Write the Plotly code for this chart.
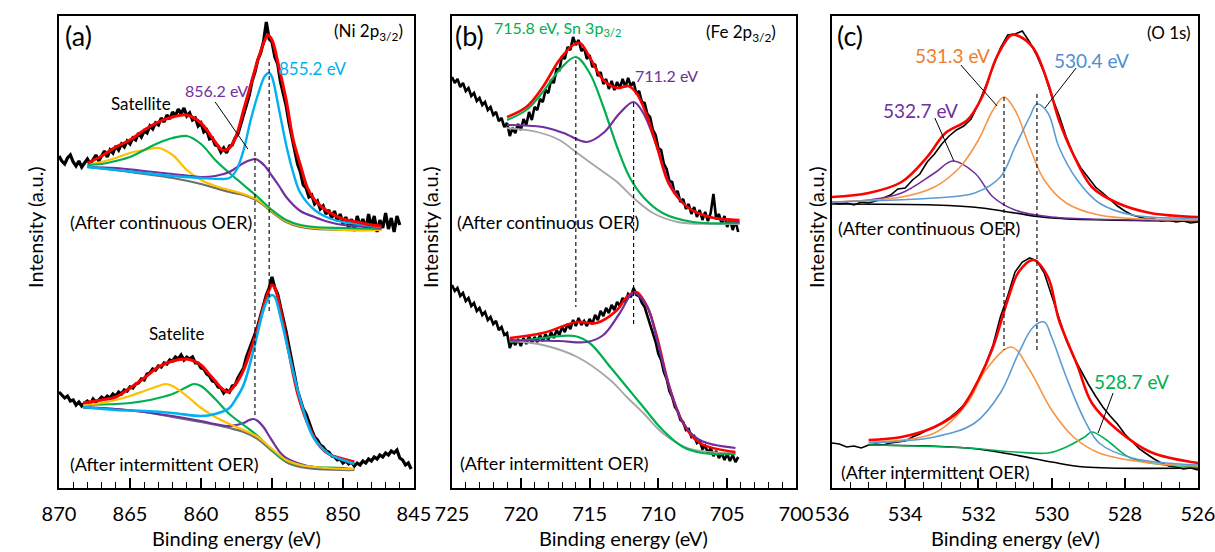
import plotly.graph_objects as go

FONT = "Lato"

# ---------------- Panel (a) Ni 2p3/2 : after continuous OER ----------------
# raw spectrum: (binding energy eV, intensity a.u.)
A1_DATA = [
    (870.0, 344), (869.8, 339), (869.6, 336), (869.4, 342), (869.2, 345), (869.0, 338), (868.8, 334), (868.6, 339),
    (868.4, 333), (868.2, 337), (868.0, 341), (867.8, 336), (867.6, 340), (867.4, 345), (867.2, 339), (867.0, 344),
    (866.8, 349), (866.6, 343), (866.4, 350), (866.2, 347), (866.0, 354), (865.8, 350), (865.6, 356), (865.4, 353),
    (865.2, 359), (865.0, 356), (864.8, 362), (864.6, 360), (864.4, 367), (864.2, 363), (864.0, 369), (863.8, 367),
    (863.6, 374), (863.4, 371), (863.2, 377), (863.0, 375), (862.8, 382), (862.6, 378), (862.4, 385), (862.2, 381),
    (862.0, 388), (861.8, 384), (861.6, 391), (861.4, 386), (861.2, 392), (861.0, 384), (860.8, 387), (860.6, 380),
    (860.4, 382), (860.2, 374), (860.0, 377), (859.8, 368), (859.6, 370), (859.4, 361), (859.2, 362), (859.0, 355),
    (858.8, 354), (858.6, 348), (858.4, 352), (858.2, 347), (858.0, 354), (857.8, 355), (857.6, 362), (857.4, 366),
    (857.2, 376), (857.0, 385), (856.8, 396), (856.6, 405), (856.4, 419), (856.2, 428), (856.0, 440), (855.8, 447),
    (855.6, 458), (855.4, 478), (855.2, 461), (855.0, 458), (854.8, 443), (854.6, 436), (854.4, 418), (854.2, 406),
    (854.0, 394), (853.8, 377), (853.6, 362), (853.4, 347), (853.2, 336), (853.0, 328), (852.8, 315), (852.6, 312),
    (852.4, 303), (852.2, 305), (852.0, 296), (851.8, 299), (851.6, 291), (851.4, 294), (851.2, 286), (851.0, 290),
    (850.8, 282), (850.6, 289), (850.4, 279), (850.2, 286), (850.0, 276), (849.8, 283), (849.6, 272), (849.4, 281),
    (849.2, 269), (849.0, 284), (848.8, 274), (848.6, 281), (848.4, 270), (848.2, 286), (848.0, 273), (847.8, 284),
    (847.6, 268), (847.4, 280), (847.2, 272), (847.0, 287), (846.8, 271), (846.6, 282), (846.4, 268), (846.2, 284),
    (846.0, 275)]
A1_FIT_E = [868, 867, 866, 865, 864, 863, 862, 861, 860, 859, 858.5, 858, 857.5, 857, 856.5, 856, 855.5, 855.3, 855,
            854.5, 854, 853.5, 853, 852.5, 852, 851, 850, 849, 848, 847.3]
A1_FIT_I = [337, 344, 353, 360, 370, 378, 383, 385, 377, 358, 350, 352, 365, 390, 415, 440, 460, 465, 460,
            432, 400, 360, 335, 312, 300, 288, 281, 278, 275, 274]
A1_CYAN_E = [868, 866, 864, 862, 860, 858.5, 858, 857.5, 857, 856.5, 856, 855.5, 855.2, 855, 854.5, 854, 853.5, 853,
             852, 851, 850, 849, 848, 847.3]
A1_CYAN_I = [333, 330, 327, 324, 322, 321, 322, 330, 350, 380, 405, 424, 427, 423, 390, 355, 327, 307,
             290, 282, 278, 276, 274, 273]
A1_PURP_E = [868, 866, 864, 862, 860, 859, 858, 857, 856.5, 856.2, 856, 855.5, 855, 854.5, 854, 853, 852, 851, 850,
             848, 847.3]
A1_PURP_I = [333, 332, 329, 326, 323, 324, 328, 337, 340, 341, 340, 334, 324, 314, 303, 289, 283, 278, 275, 273, 272]
A1_GREEN_E = [868, 867, 866, 865, 864, 863, 862, 861, 860, 859, 858, 857, 856, 855, 854, 853, 852, 850, 847.3]
A1_GREEN_I = [335, 336, 339, 343, 350, 357, 362, 364, 356, 340, 327, 315, 303, 290, 280, 275, 273, 272, 271]
A1_YEL_E = [868, 867, 866, 865, 864, 863, 862, 861, 860, 859, 858, 857, 856, 855, 854, 853, 852, 850, 847.3]
A1_YEL_I = [335, 338, 342, 347, 350, 352, 345, 330, 320, 314, 310, 306, 300, 289, 279, 274, 272, 270, 270]
A1_BG_E = [868, 866, 864, 862, 860, 858, 857, 856, 855, 854, 853, 852, 850, 847.3]
A1_BG_I = [333, 330, 326, 322, 316, 308, 305, 299, 288, 278, 273, 271, 270, 270]

# ---------------- Panel (a) : after intermittent OER ----------------
A2_DATA = [
    (870.0, 108), (869.8, 105), (869.6, 102), (869.4, 104), (869.2, 99), (869.0, 100), (868.8, 95), (868.6, 98),
    (868.4, 94), (868.2, 97), (868.0, 99), (867.8, 96), (867.6, 101), (867.4, 98), (867.2, 100), (867.0, 103),
    (866.8, 101), (866.6, 104), (866.4, 102), (866.2, 106), (866.0, 104), (865.8, 108), (865.6, 106), (865.4, 110),
    (865.2, 109), (865.0, 113), (864.8, 112), (864.6, 116), (864.4, 117), (864.2, 121), (864.0, 120), (863.8, 126),
    (863.6, 127), (863.4, 131), (863.2, 130), (863.0, 134), (862.8, 133), (862.6, 137), (862.4, 136), (862.2, 140),
    (862.0, 139), (861.8, 143), (861.6, 141), (861.4, 145), (861.2, 140), (861.0, 143), (860.8, 141), (860.6, 143),
    (860.4, 137), (860.2, 137), (860.0, 132), (859.8, 131), (859.6, 126), (859.4, 124), (859.2, 119), (859.0, 118),
    (858.8, 113), (858.6, 112), (858.4, 107), (858.2, 110), (858.0, 108), (857.8, 114), (857.6, 115), (857.4, 122),
    (857.2, 127), (857.0, 132), (856.8, 143), (856.6, 150), (856.4, 158), (856.2, 166), (856.0, 174), (855.8, 184),
    (855.6, 194), (855.4, 205), (855.2, 212), (855.0, 223), (854.8, 212), (854.6, 206), (854.4, 193), (854.2, 182),
    (854.0, 168), (853.8, 153), (853.6, 140), (853.4, 124), (853.2, 109), (853.0, 100), (852.8, 91), (852.6, 86),
    (852.4, 77), (852.2, 70), (852.0, 63), (851.8, 60), (851.6, 55), (851.4, 53), (851.2, 49), (851.0, 48),
    (850.8, 44), (850.6, 43), (850.4, 40), (850.2, 41), (850.0, 37), (849.8, 39), (849.6, 36), (849.4, 38),
    (849.2, 34), (849.0, 37), (848.8, 35), (848.6, 39), (848.4, 37), (848.2, 41), (848.0, 39), (847.8, 43),
    (847.6, 41), (847.4, 45), (847.2, 43), (847.0, 47), (846.8, 45), (846.6, 49), (846.4, 47), (846.2, 50),
    (846.0, 42), (845.8, 40), (845.6, 35), (845.4, 37), (845.2, 31)]
A2_FIT_E = [868.3, 867, 866, 865, 864, 863, 862, 861, 860, 859.5, 859, 858.5, 858.1, 857.5, 857, 856.5, 856, 855.5,
            855.2, 855, 854.8, 854.4, 853.8, 853.2, 852.5, 851.8, 851, 850, 849.2]
A2_FIT_I = [97, 100, 103, 112, 122, 133, 139, 141, 135, 127, 119, 111, 108, 117, 130, 150, 172, 198,
            210, 215, 212, 190, 147, 107, 77, 57, 46, 41, 38]
A2_CYAN_E = [868.3, 866, 864, 862, 860, 859, 858, 857.5, 857, 856.3, 855.6, 855.2, 855, 854.8, 854.4, 853.7, 853,
             852.1, 851, 850, 849.2]
A2_CYAN_I = [93, 90, 89, 87, 84, 86, 92, 102, 115, 150, 190, 203, 205, 203, 183, 140, 100, 63, 46, 40, 36]
A2_GREEN_E = [868.3, 866, 865, 864, 863, 862, 861, 860.5, 860, 859, 858, 857, 856, 855, 854, 853, 852, 850, 849.2]
A2_GREEN_I = [95, 96, 97, 99, 102, 106, 113, 116, 114, 101, 86, 75, 64, 50, 39, 35, 33, 32, 31]
A2_YEL_E = [868.3, 867, 866, 865, 864, 863, 862.5, 862, 861, 860, 859, 858, 857, 856, 855, 854, 853, 852, 850, 849.2]
A2_YEL_I = [95, 97, 100, 104, 109, 114, 116, 114, 104, 92, 83, 76, 70, 63, 51, 40, 35, 33, 31, 31]
A2_PURP_E = [868.3, 866, 864, 862, 860, 859, 858, 857.5, 857, 856.6, 856.3, 856, 855.6, 855.2, 854.8, 854.4, 854,
             853, 852, 850, 849.2]
A2_PURP_I = [93, 91, 88, 84, 79, 76, 74, 75, 77, 80, 81, 79, 73, 64, 55, 47, 42, 36, 33, 31, 31]
A2_BG_E = [868.3, 866, 864, 862, 860, 858, 857, 856, 855, 854, 853, 852, 850, 849.2]
A2_BG_I = [92, 91, 88, 83, 78, 72, 68, 61, 49, 38, 33, 31, 30, 30]

A_DASH_E = [856.2, 855.2]
A_DASH_TOP = [348, 438]
A_DASH_BOT = [82, 188]
A_LEAD_E = [859.0, 856.7]
A_LEAD_I = [398, 351]

# ---------------- Panel (b) Fe 2p3/2 : after continuous OER ----------------
B1_DATA = [
    (725.0, 423), (724.8, 417), (724.6, 421), (724.4, 413), (724.2, 417), (724.0, 409), (723.8, 412), (723.6, 404),
    (723.4, 407), (723.2, 399), (723.0, 402), (722.8, 395), (722.6, 398), (722.4, 390), (722.2, 393), (722.0, 385),
    (721.8, 388), (721.6, 379), (721.4, 382), (721.2, 373), (721.0, 377), (720.8, 364), (720.6, 372), (720.4, 367),
    (720.2, 376), (720.0, 370), (719.8, 381), (719.6, 375), (719.4, 388), (719.2, 380), (719.0, 393), (718.8, 390),
    (718.6, 401), (718.4, 398), (718.2, 410), (718.0, 407), (717.8, 420), (717.6, 417), (717.4, 431), (717.2, 430),
    (717.0, 444), (716.8, 441), (716.6, 453), (716.4, 450), (716.2, 463), (716.0, 455), (715.8, 460), (715.6, 449),
    (715.4, 452), (715.2, 441), (715.0, 445), (714.8, 433), (714.6, 436), (714.4, 424), (714.2, 428), (714.0, 416),
    (713.8, 421), (713.6, 411), (713.4, 419), (713.2, 410), (713.0, 418), (712.8, 412), (712.6, 421), (712.4, 413),
    (712.2, 422), (712.0, 414), (711.8, 418), (711.6, 406), (711.4, 409), (711.2, 398), (711.0, 397), (710.8, 386),
    (710.6, 383), (710.4, 370), (710.2, 365), (710.0, 352), (709.8, 350), (709.6, 336), (709.4, 331), (709.2, 319),
    (709.0, 318), (708.8, 306), (708.6, 309), (708.4, 298), (708.2, 301), (708.0, 291), (707.8, 296), (707.6, 286),
    (707.4, 293), (707.2, 283), (707.0, 290), (706.8, 280), (706.6, 288), (706.4, 279), (706.2, 287), (706.0, 306),
    (705.8, 281), (705.6, 286), (705.4, 276), (705.2, 284), (705.0, 273), (704.8, 281), (704.6, 270), (704.4, 279),
    (704.2, 268)]
B1_FIT_E = [721, 719.6, 718.4, 717.2, 716.2, 715.7, 715, 714, 713, 712.2, 711.6, 710.8, 710.1, 709.2, 707.9, 706.3, 704.1]
B1_FIT_I = [383, 393, 413, 440, 455, 457, 443, 420, 412, 414, 407, 383, 353, 315, 293, 283, 280]
B1_GREEN_E = [721, 719.6, 718.4, 717.2, 716, 715, 714, 713, 712.1, 711.1, 709.7, 707.5, 704.1]
B1_GREEN_I = [380, 390, 408, 430, 443, 427, 393, 353, 323, 303, 287, 278, 277]
B1_PURP_E = [721, 718.4, 716.9, 715.2, 714, 712.8, 711.8, 711.1, 710.1, 709.2, 707.9, 706.3, 704.1]
B1_PURP_I = [375, 373, 367, 358, 367, 387, 398, 387, 353, 317, 293, 283, 278]
B1_BG_E = [721, 718.8, 717.2, 716, 714.5, 713, 711.8, 710.4, 708.6, 706.3, 704.1]
B1_BG_I = [372, 368, 360, 348, 333, 318, 302, 287, 278, 276, 276]

# ---------------- Panel (b) : after intermittent OER ----------------
B2_DATA = [
    (725.0, 215), (724.8, 209), (724.6, 212), (724.4, 204), (724.2, 207), (724.0, 199), (723.8, 202), (723.6, 194),
    (723.4, 197), (723.2, 189), (723.0, 192), (722.8, 185), (722.6, 188), (722.4, 180), (722.2, 183), (722.0, 176),
    (721.8, 179), (721.6, 170), (721.4, 173), (721.2, 165), (721.0, 167), (720.8, 152), (720.6, 160), (720.4, 155),
    (720.2, 161), (720.0, 154), (719.8, 162), (719.6, 156), (719.4, 164), (719.2, 157), (719.0, 163), (718.8, 158),
    (718.6, 165), (718.4, 159), (718.2, 166), (718.0, 160), (717.8, 168), (717.6, 162), (717.4, 170), (717.2, 165),
    (717.0, 173), (716.8, 168), (716.6, 176), (716.4, 171), (716.2, 180), (716.0, 174), (715.8, 182), (715.6, 175),
    (715.4, 179), (715.2, 174), (715.0, 181), (714.8, 176), (714.6, 185), (714.4, 180), (714.2, 189), (714.0, 184),
    (713.8, 192), (713.6, 187), (713.4, 195), (713.2, 190), (713.0, 198), (712.8, 194), (712.6, 202), (712.4, 198),
    (712.2, 206), (712.0, 203), (711.8, 212), (711.6, 205), (711.4, 204), (711.2, 197), (711.0, 193), (710.8, 184),
    (710.6, 177), (710.4, 166), (710.2, 158), (710.0, 146), (709.8, 140), (709.6, 128), (709.4, 121), (709.2, 109),
    (709.0, 103), (708.8, 93), (708.6, 89), (708.4, 80), (708.2, 78), (708.0, 70), (707.8, 71), (707.6, 63),
    (707.4, 64), (707.2, 57), (707.0, 59), (706.8, 51), (706.6, 54), (706.4, 47), (706.2, 52), (706.0, 44),
    (705.8, 49), (705.6, 42), (705.4, 47), (705.2, 40), (705.0, 46), (704.8, 39), (704.6, 45), (704.4, 38),
    (704.2, 43)]
B2_FIT_E = [720.8, 718.4, 715.9, 714.5, 713, 712.3, 711.6, 710.8, 710.1, 709.2, 708.2, 707, 704.4]
B2_FIT_I = [162, 167, 178, 177, 190, 203, 208, 193, 163, 113, 77, 57, 48]
B2_GREEN_E = [720.8, 718.4, 716.1, 715, 713.5, 712.3, 711.1, 709.7, 708.2, 706.8, 704.4]
B2_GREEN_I = [158, 162, 164, 157, 133, 113, 93, 70, 53, 47, 46]
B2_PURP_E = [720.8, 717.2, 715.2, 714, 712.8, 711.8, 710.8, 710.1, 709.2, 708.2, 707, 704.4]
B2_PURP_I = [160, 159, 158, 165, 187, 207, 193, 160, 113, 77, 60, 52]
B2_BG_E = [720.8, 718.4, 715.9, 713.5, 712.3, 711.1, 709.7, 707.9, 704.4]
B2_BG_I = [159, 155, 143, 120, 103, 87, 67, 52, 47]

B_DASH_E = [716.0, 711.8]
B_DASH_TOP = [440, 397]
B_DASH_BOT = [193, 173]

# ---------------- Panel (c) O 1s : after continuous OER ----------------
C_DATA_E = [536.0, 535.8, 535.6, 535.4, 535.2, 535.0, 534.8, 534.6, 534.4, 534.2, 534.0, 533.8, 533.6, 533.4, 533.2,
            533.0, 532.8, 532.6, 532.4, 532.2, 532.0, 531.8, 531.6, 531.4, 531.2, 531.0, 530.8, 530.6, 530.4, 530.2,
            530.0, 529.8, 529.6, 529.4, 529.2, 529.0, 528.8, 528.6, 528.4, 528.2, 528.0, 527.8, 527.6, 527.4, 527.2,
            527.0, 526.8, 526.6, 526.4, 526.2, 526.0]
C1_DATA_I = [298, 296, 297, 295, 298, 297, 299, 302, 305, 311, 312, 320, 326, 338, 346,
             356, 364, 370, 374, 381, 396, 414, 434, 452, 465, 466, 469, 458, 444, 427,
             404, 385, 363, 345, 332, 322, 313, 307, 300, 294, 289, 285, 283, 281, 281,
             279, 280, 278, 279, 277, 278]
C1_FIT_E = [536, 535, 534.1, 533.4, 532.9, 532.3, 531.9, 531.5, 531.1, 530.9, 530.5, 530.1, 529.8, 529.4, 528.9,
            528.2, 527.3, 526]
C1_FIT_I = [303, 307, 318, 343, 367, 380, 403, 443, 465, 464, 452, 417, 380, 345, 313, 297, 287, 283]
C1_ORANGE_E = [536, 534.1, 533.2, 532.5, 532, 531.6, 531.3, 531, 530.6, 530.2, 529.6, 528.7, 526]
C1_ORANGE_I = [298, 303, 313, 333, 360, 390, 403, 390, 353, 320, 297, 285, 280]
C1_BLUE_E = [536, 533.2, 532.1, 531.4, 531, 530.6, 530.4, 530.1, 529.8, 529.3, 528.7, 527.8, 526]
C1_BLUE_I = [298, 302, 307, 323, 353, 383, 396, 387, 353, 320, 297, 285, 282]
C1_PURP_E = [536, 535, 534.1, 533.2, 532.7, 532.1, 531.6, 531, 530, 526]
C1_PURP_I = [298, 300, 307, 327, 339, 327, 303, 290, 283, 280]
C1_BG_E = [536, 533.2, 531.9, 531, 530, 526]
C1_BG_I = [296, 295, 292, 287, 282, 279]

# ---------------- Panel (c) : after intermittent OER ----------------
C2_DATA_I = [57, 56, 53, 54, 52, 55, 56, 55, 57, 58, 59, 63, 66, 70, 73,
             77, 82, 88, 95, 106, 120, 136, 155, 183, 204, 228, 238, 242, 239, 227,
             205, 182, 160, 143, 129, 116, 104, 93, 84, 76, 66, 58, 51, 46, 41,
             37, 34, 33, 31, 32, 30]
C2_FIT_E = [535, 534.1, 533.2, 532.5, 532, 531.6, 531.2, 530.9, 530.5, 530.1, 529.8, 529.3, 528.9, 528.2, 527.3, 526]
C2_FIT_I = [60, 63, 73, 90, 120, 153, 200, 228, 240, 223, 180, 135, 97, 70, 48, 37]
C2_ORANGE_E = [535, 533.2, 532.3, 531.8, 531.1, 530.6, 530, 529.4, 528.7, 527.3, 526]
C2_ORANGE_I = [58, 67, 97, 130, 153, 130, 90, 63, 47, 37, 34]
C2_BLUE_E = [535, 533.2, 532.1, 531.4, 530.9, 530.5, 530.2, 530, 529.6, 529.1, 528.7, 527.8, 526]
C2_BLUE_I = [57, 63, 77, 107, 147, 173, 178, 163, 123, 80, 57, 42, 35]
C2_GREEN_E = [535, 532.3, 531, 530.1, 529.6, 529.1, 528.9, 528.5, 527.9, 527.3, 526]
C2_GREEN_I = [55, 52, 48, 47, 53, 63, 68, 60, 43, 37, 33]
C2_BG_E = [535, 532.3, 531, 530, 529.1, 526]
C2_BG_I = [55, 52, 45, 38, 33, 32]

C_DASH_E = [531.3, 530.4]
C_DASH_TOP = [403, 406]
C_DASH_BOT = [150, 149]
C_LEAD_E = [[532.48, 531.49], [529.33, 530.18], [533.19, 532.67], [528.32, 528.73]]
C_LEAD_I = [[435, 394], [432, 392], [382, 339], [107, 67]]

# ---------------- colours ----------------
RED = "#FF0000"
CYAN = "#00B0F0"
PURPLE = "#7030A0"
GREEN = "#00B050"
YELLOW = "#FFC000"
GRAY_A = "#6E6E6E"
GRAY_B = "#A6A6A6"
ORANGE = "#F79646"
BLUE = "#5B9BD5"
BLUE_T = "#4F8FD0"
ORANGE_T = "#ED7D31"

fig = go.Figure()


def line(ax, E, I, color, width, shape="spline", dash=None):
    fig.add_trace(go.Scatter(
        x=list(E), y=list(I), xaxis="x" + ax, yaxis="y" + ax, mode="lines",
        line=dict(color=color, width=width, shape=shape, dash=dash),
        hoverinfo="skip", showlegend=False))


def raw(ax, pairs, width):
    E, I = zip(*pairs)
    line(ax, E, I, "black", width, "linear")


# panel a
raw("", A1_DATA, 3.2)
for E, I, c, w in [
    (A1_BG_E, A1_BG_I, GRAY_A, 2.2),
    (A1_YEL_E, A1_YEL_I, YELLOW, 2.2),
    (A1_GREEN_E, A1_GREEN_I, GREEN, 2.2),
    (A1_PURP_E, A1_PURP_I, PURPLE, 2.2),
    (A1_CYAN_E, A1_CYAN_I, CYAN, 2.4),
    (A1_FIT_E, A1_FIT_I, RED, 3),
]:
    line("", E, I, c, w)
raw("", A2_DATA, 3.2)
for E, I, c, w in [
    (A2_BG_E, A2_BG_I, GRAY_A, 2.2),
    (A2_PURP_E, A2_PURP_I, PURPLE, 2.2),
    (A2_GREEN_E, A2_GREEN_I, GREEN, 2.2),
    (A2_YEL_E, A2_YEL_I, YELLOW, 2.2),
    (A2_FIT_E, A2_FIT_I, RED, 3),
    (A2_CYAN_E, A2_CYAN_I, CYAN, 2.6),
]:
    line("", E, I, c, w)

# panel b
raw("2", B1_DATA, 2.6)
for E, I, c, w in [
    (B1_BG_E, B1_BG_I, GRAY_B, 1.8),
    (B1_GREEN_E, B1_GREEN_I, GREEN, 2.2),
    (B1_PURP_E, B1_PURP_I, PURPLE, 2.2),
    (B1_FIT_E, B1_FIT_I, RED, 2.6),
]:
    line("2", E, I, c, w)
raw("2", B2_DATA, 2.6)
for E, I, c, w in [
    (B2_BG_E, B2_BG_I, GRAY_B, 1.8),
    (B2_GREEN_E, B2_GREEN_I, GREEN, 2.2),
    (B2_FIT_E, B2_FIT_I, RED, 2.6),
    (B2_PURP_E, B2_PURP_I, PURPLE, 2.2),
]:
    line("2", E, I, c, w)

# panel c
for E, I, c, w, s in [
    (C_DATA_E, C1_DATA_I, "black", 1.6, "linear"),
    (C1_BG_E, C1_BG_I, "black", 1.6, "spline"),
    (C1_PURP_E, C1_PURP_I, PURPLE, 1.6, "spline"),
    (C1_ORANGE_E, C1_ORANGE_I, ORANGE, 1.6, "spline"),
    (C1_BLUE_E, C1_BLUE_I, BLUE, 1.6, "spline"),
    (C1_FIT_E, C1_FIT_I, RED, 2.6, "spline"),
    (C_DATA_E, C2_DATA_I, "black", 1.6, "linear"),
    (C2_BG_E, C2_BG_I, "black", 1.6, "spline"),
    (C2_GREEN_E, C2_GREEN_I, GREEN, 1.6, "spline"),
    (C2_ORANGE_E, C2_ORANGE_I, ORANGE, 1.6, "spline"),
    (C2_BLUE_E, C2_BLUE_I, BLUE, 1.6, "spline"),
    (C2_FIT_E, C2_FIT_I, RED, 2.6, "spline"),
]:
    line("3", E, I, c, w, s)

# dashed guide lines and leader lines
for ax, DE, DT, DB in [("", A_DASH_E, A_DASH_TOP, A_DASH_BOT),
                       ("2", B_DASH_E, B_DASH_TOP, B_DASH_BOT),
                       ("3", C_DASH_E, C_DASH_TOP, C_DASH_BOT)]:
    for e, t, b in zip(DE, DT, DB):
        line(ax, [e, e], [t, b], "black", 1.1, "linear", dash="4px,3px")

line("", A_LEAD_E, A_LEAD_I, "black", 1, "linear")
for le, li in zip(C_LEAD_E, C_LEAD_I):
    line("3", le, li, "black", 1, "linear")

# ---------------- axes ----------------
YDOM = [64 / 552, 536 / 552]
XDOMS = [[59 / 1215, 414 / 1215], [452 / 1215, 796 / 1215], [832 / 1215, 1198 / 1215]]
XRANGES = [[870, 845], [725, 700], [536, 526]]
DTICKS = [5, 5, 2]
MINOR = [1, 1, 0.5]

layout = dict(width=1215, height=552, margin=dict(l=0, r=0, t=0, b=0, pad=0, autoexpand=False),
              autosize=False, paper_bgcolor="white", plot_bgcolor="white", showlegend=False)
for k, suf in enumerate(["", "2", "3"]):
    layout["xaxis" + suf] = dict(
        domain=XDOMS[k], range=XRANGES[k], dtick=DTICKS[k], tick0=0, anchor="y" + suf,
        showline=True, linecolor="black", linewidth=2, mirror=True,
        ticks="inside", ticklen=10, tickwidth=1.6, tickcolor="black",
        minor=dict(dtick=MINOR[k], ticks="inside", ticklen=6, tickwidth=1.4, tickcolor="black", showgrid=False),
        showgrid=False, zeroline=False, ticklabelstandoff=7, automargin=False,
        ticklabeloverflow="allow",
        tickfont=dict(family=FONT, size=20, color="black"))
    layout["yaxis" + suf] = dict(
        domain=YDOM, range=[12, 484], anchor="x" + suf, automargin=False,
        showline=True, linecolor="black", linewidth=2, mirror=True,
        ticks="", showticklabels=False, showgrid=False, zeroline=False)
fig.update_layout(**layout)


def txt(ax, x, y, s, color="black", size=16, xanchor="center"):
    fig.add_annotation(x=x, y=y, xref="x" + ax, yref="y" + ax, text=s, showarrow=False,
                       font=dict(family=FONT, size=size, color=color), xanchor=xanchor, yanchor="middle")


def ptxt(x, y, s, size=20, angle=0):
    fig.add_annotation(x=x, y=y, xref="paper", yref="paper", text=s, showarrow=False, textangle=angle,
                       font=dict(family=FONT, size=size, color="black"), xanchor="center", yanchor="middle")


for k in range(3):
    ptxt((XDOMS[k][0] + XDOMS[k][1]) / 2, 14 / 552, "Binding energy (eV)")
for xp in [35, 430, 816]:
    ptxt(xp / 1215, (552 - 227) / 552, "Intensity (a.u.)", angle=-90)

# panel a labels
txt("", 868.6, 465, "(a)", size=27)
txt("", 845.6, 468, "(Ni 2p<sub>3/2</sub>)", size=17, xanchor="right")
txt("", 864.2, 397, "Satellite", size=17)
txt("", 858.9, 410, "856.2 eV", color=PURPLE, size=16)
txt("", 852.1, 432, "855.2 eV", color=CYAN, size=17)
txt("", 869.4, 278, "(After continuous OER)", size=18, xanchor="left")
txt("", 861.7, 167, "Satelite", size=17)
txt("", 869.4, 36, "(After intermittent OER)", size=18, xanchor="left")

# panel b labels
txt("2", 723.7, 465, "(b)", size=27)
txt("2", 717.3, 472, "715.8 eV, Sn 3p<sub>3/2</sub>", color=GREEN, size=16)
txt("2", 701.3, 467, "(Fe 2p<sub>3/2</sub>)", size=17, xanchor="right")
txt("2", 709.4, 425, "711.2 eV", color=PURPLE, size=16)
txt("2", 724.8, 278, "(After continuous OER)", size=18, xanchor="left")
txt("2", 724.6, 37, "(After intermittent OER)", size=18, xanchor="left")

# panel c labels
txt("3", 535.5, 465, "(c)", size=27)
txt("3", 526.15, 468, "(O 1s)", size=17, xanchor="right")
txt("3", 532.72, 445, "531.3 eV", color=ORANGE_T, size=19)
txt("3", 528.9, 440, "530.4 eV", color=BLUE_T, size=19)
txt("3", 533.57, 390, "532.7 eV", color=PURPLE, size=19)
txt("3", 527.83, 119, "528.7 eV", color=GREEN, size=19)
txt("3", 535.9, 272, "(After continuous OER)", size=18, xanchor="left")
txt("3", 535.8, 28, "(After intermittent OER)", size=18, xanchor="left")

fig.write_html("out.html", config={"displayModeBar": False},
               post_script="document.body.style.margin='0px';document.body.style.overflow='hidden';")
